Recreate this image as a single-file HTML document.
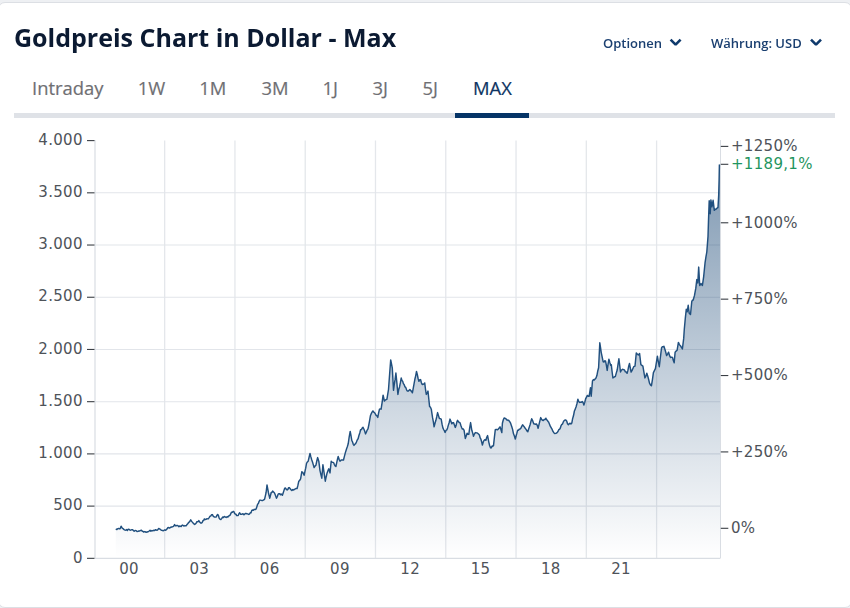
<!DOCTYPE html>
<html><head><meta charset="utf-8"><style>
html,body{margin:0;padding:0;}
body{width:850px;height:608px;overflow:hidden;background:#eef0f3;position:relative;font-family:"Open Sans","Liberation Sans",sans-serif;}
.card{position:absolute;left:-2px;top:2px;width:852px;height:604px;background:#fff;border:1px solid #dcdfe4;border-radius:7px;}
h1{position:absolute;left:14px;top:20px;margin:0;font-size:25px;font-weight:700;color:#0b1a32;line-height:34px;white-space:nowrap;will-change:transform;}
.opt{position:absolute;top:33px;font-size:13px;font-weight:600;color:#1a3f70;line-height:20px;white-space:nowrap;will-change:transform;}
.tab{position:absolute;top:75px;font-size:18.4px;font-weight:400;-webkit-text-stroke:0.2px #6f6f73;color:#6f6f73;line-height:25px;white-space:nowrap;}
.tab.act{color:#0e3462;-webkit-text-stroke:0.2px #0e3462;}
.bar{position:absolute;left:14px;top:113px;width:821px;height:5px;background:#dfe2e7;}
.bar i{position:absolute;left:441px;top:0;width:74px;height:5px;background:#053466;}
svg{position:absolute;left:0;top:0;}
svg text{font-family:"DejaVu Sans",Verdana,sans-serif;font-size:15px;letter-spacing:0.3px;fill:#4e5359;}
</style></head><body>
<div class="card"></div>
<div class="tab" style="left:32px">Intraday</div>
<div class="tab" style="left:137.8px">1W</div>
<div class="tab" style="left:199.2px">1M</div>
<div class="tab" style="left:261.5px">3M</div>
<div class="tab" style="left:322.5px">1J</div>
<div class="tab" style="left:372.5px">3J</div>
<div class="tab" style="left:422.5px">5J</div>
<div class="tab act" style="left:473px">MAX</div>
<div class="bar"><i></i></div>
<svg width="850" height="608" viewBox="0 0 850 608">
<defs><linearGradient id="g" x1="0" y1="164.5" x2="0" y2="558" gradientUnits="userSpaceOnUse">
<stop offset="0" stop-color="#003366" stop-opacity="0.5"/><stop offset="1" stop-color="#003366" stop-opacity="0"/></linearGradient></defs>
<g stroke="#e4e7eb" stroke-width="1.3"><line x1="164.67" x2="164.67" y1="140.6" y2="558"/><line x1="234.94" x2="234.94" y1="140.6" y2="558"/><line x1="305.22" x2="305.22" y1="140.6" y2="558"/><line x1="375.49" x2="375.49" y1="140.6" y2="558"/><line x1="445.77" x2="445.77" y1="140.6" y2="558"/><line x1="516.04" x2="516.04" y1="140.6" y2="558"/><line x1="586.31" x2="586.31" y1="140.6" y2="558"/><line x1="656.59" x2="656.59" y1="140.6" y2="558"/></g>
<g stroke="#e2e5ea" stroke-width="1.1"><line x1="95" x2="720" y1="192.82" y2="192.82"/><line x1="95" x2="720" y1="245.03" y2="245.03"/><line x1="95" x2="720" y1="297.25" y2="297.25"/><line x1="95" x2="720" y1="349.46" y2="349.46"/><line x1="95" x2="720" y1="401.68" y2="401.68"/><line x1="95" x2="720" y1="453.90" y2="453.90"/><line x1="95" x2="720" y1="506.11" y2="506.11"/></g>
<g stroke="#d9dde3" stroke-width="1.2"><line x1="95" x2="95" y1="140" y2="558.5"/><line x1="95" x2="720" y1="558.3" y2="558.3"/></g><line x1="720.5" x2="720.5" y1="140" y2="558.5" stroke="#d9dde3" stroke-width="1"/>
<path d="M115.80,528.80 L116.90,529.60 L118.50,528.50 L120.10,528.80 L121.10,526.20 L122.20,528.10 L123.80,529.40 L125.90,530.20 L127.50,530.40 L129.10,529.40 L131.20,529.90 L133.30,530.40 L136.00,530.60 L138.10,531.30 L140.70,530.40 L142.80,531.30 L145.00,531.70 L147.10,532.00 L149.20,531.00 L151.80,530.60 L154.50,530.60 L156.60,530.20 L158.70,528.50 L160.30,529.40 L162.40,530.40 L164.60,529.90 L166.70,529.40 L167.70,527.80 L170.40,527.50 L172.50,526.70 L174.60,524.60 L176.20,525.70 L178.90,526.70 L180.40,526.20 L182.60,525.10 L184.20,526.00 L186.30,525.70 L187.90,523.50 L189.50,521.90 L190.70,519.80 L192.10,521.90 L193.70,523.50 L195.30,524.10 L196.90,521.70 L198.80,520.60 L201.60,523.10 L204.40,518.90 L206.80,518.70 L208.20,518.90 L210.10,516.10 L212.40,514.60 L214.30,517.00 L216.20,517.00 L217.60,514.40 L219.90,519.10 L221.80,518.40 L224.20,516.50 L226.10,517.50 L227.90,517.00 L230.80,513.70 L233.10,511.40 L234.50,513.20 L237.40,515.60 L239.70,512.80 L241.60,514.20 L244.40,514.60 L246.80,513.70 L248.60,514.40 L251.00,512.80 L252.40,509.90 L255.20,509.50 L256.60,507.60 L257.60,504.30 L259.90,500.10 L262.80,500.50 L264.60,499.10 L266.10,492.50 L267.00,485.00 L268.40,492.50 L269.80,498.20 L271.20,492.50 L272.60,491.10 L274.50,493.00 L276.50,498.20 L278.20,494.10 L281.20,494.10 L282.40,495.30 L284.70,488.20 L287.10,490.00 L289.40,487.60 L291.80,490.60 L295.30,488.80 L297.10,488.50 L298.80,481.20 L300.60,478.80 L301.80,471.80 L304.10,475.30 L306.50,463.50 L308.20,461.20 L310.00,453.50 L311.80,460.00 L314.10,467.60 L315.90,465.30 L317.60,457.60 L318.80,461.20 L320.00,470.60 L321.80,478.20 L322.90,464.70 L324.10,472.90 L325.30,481.20 L327.10,472.90 L328.80,468.80 L330.00,472.90 L331.20,461.20 L332.90,462.40 L335.90,466.50 L338.20,456.50 L340.00,461.20 L342.40,460.00 L343.50,460.00 L345.30,452.90 L346.60,448.70 L348.20,443.80 L350.20,431.40 L351.80,440.50 L354.00,445.40 L356.40,442.10 L358.10,438.80 L360.60,429.80 L363.00,427.30 L365.50,433.90 L368.00,428.90 L370.40,415.80 L372.90,410.90 L374.50,412.50 L377.80,417.40 L379.50,409.20 L381.10,409.20 L383.10,395.20 L384.40,401.00 L386.90,399.30 L388.50,389.50 L389.70,373.00 L390.70,359.90 L392.30,368.10 L393.50,390.30 L395.90,373.00 L397.90,394.40 L401.20,378.00 L404.10,384.50 L407.40,391.10 L409.90,389.50 L412.40,392.80 L416.50,371.40 L418.90,381.30 L420.60,379.60 L422.20,384.50 L424.70,382.90 L426.30,394.40 L428.00,391.10 L429.60,406.70 L431.30,409.20 L431.80,412.60 L434.10,426.80 L435.90,420.30 L437.60,412.60 L439.40,418.50 L441.20,419.10 L442.90,427.90 L445.10,432.40 L447.60,427.90 L450.00,419.10 L451.80,423.80 L453.50,422.60 L455.30,427.40 L457.60,420.30 L460.00,422.60 L462.40,429.10 L464.10,430.30 L465.30,438.50 L467.10,433.20 L468.80,434.40 L470.60,422.60 L471.80,430.30 L473.50,436.20 L475.30,432.60 L477.60,433.20 L479.40,435.00 L482.40,445.00 L484.10,440.30 L485.90,440.30 L487.60,435.60 L488.80,442.10 L490.60,447.90 L493.50,445.60 L495.30,429.70 L497.60,429.70 L500.00,426.80 L501.80,432.60 L502.40,423.20 L504.10,417.90 L506.50,419.70 L508.80,420.30 L510.60,423.20 L511.80,426.80 L513.50,433.80 L515.30,439.10 L517.60,430.30 L520.00,429.10 L522.60,424.80 L525.20,428.30 L527.80,431.70 L529.50,426.50 L531.70,418.80 L533.80,423.90 L536.40,423.90 L538.10,428.30 L540.70,417.60 L543.30,420.50 L545.90,418.20 L549.40,423.90 L552.00,429.10 L554.50,433.40 L557.10,432.60 L559.70,429.10 L563.20,422.20 L565.80,420.00 L568.40,424.80 L571.80,423.10 L574.40,411.00 L576.10,406.70 L577.90,399.20 L579.60,402.40 L582.20,401.50 L583.90,405.00 L585.60,398.90 L587.40,395.40 L589.10,396.30 L590.50,387.70 L591.20,396.30 L592.50,380.80 L595.10,379.00 L596.90,375.60 L598.60,367.80 L599.80,342.80 L601.20,352.30 L603.20,361.80 L605.50,360.90 L607.20,370.40 L608.90,359.20 L610.70,365.20 L611.30,364.70 L612.90,377.90 L615.30,376.60 L617.20,370.00 L618.90,358.80 L620.50,372.00 L622.50,369.30 L624.50,370.00 L627.10,373.30 L629.50,363.40 L631.10,372.00 L633.70,366.70 L635.00,366.10 L636.30,352.90 L638.30,354.90 L639.60,353.60 L640.90,364.70 L642.90,366.10 L644.90,377.90 L646.80,373.30 L649.50,383.20 L651.40,385.80 L653.40,372.60 L655.40,368.70 L657.40,356.20 L659.30,366.70 L661.60,347.60 L663.90,346.30 L666.60,355.50 L668.60,352.20 L670.50,357.50 L672.50,357.50 L674.20,362.80 L675.10,352.20 L677.10,350.30 L678.40,342.40 L680.40,345.70 L682.40,348.90 L683.70,338.40 L684.30,329.20 L685.30,318.40 L686.30,309.20 L687.20,311.80 L688.20,305.30 L689.20,313.20 L690.50,314.50 L691.80,301.30 L693.20,300.00 L694.50,295.40 L695.80,288.20 L696.80,279.60 L697.80,282.90 L698.70,267.10 L699.70,285.50 L701.10,283.60 L702.40,285.50 L703.70,276.30 L705.00,263.20 L706.80,252.00 L708.00,236.50 L708.50,220.60 L709.20,200.80 L710.20,213.70 L710.90,199.90 L711.90,206.80 L713.10,200.30 L714.30,210.30 L715.70,209.40 L718.00,207.50 L718.70,195.00 L719.10,180.00 L719.40,164.40 L720.0,164.40 L720.0,558 L115.80,558 Z" fill="url(#g)" stroke="none"/>
<path d="M115.80,528.80 L116.90,529.60 L117.70,528.63 L118.50,528.50 L119.30,528.72 L120.10,528.80 L121.10,526.20 L122.20,528.10 L123.00,528.54 L123.80,529.40 L124.50,529.83 L125.20,530.13 L125.90,530.20 L126.70,529.60 L127.50,530.40 L128.30,529.12 L129.10,529.40 L130.15,530.19 L131.20,529.90 L131.90,529.68 L132.60,529.81 L133.30,530.40 L134.20,531.26 L135.10,530.49 L136.00,530.60 L137.05,531.49 L138.10,531.30 L138.97,530.96 L139.83,530.92 L140.70,530.40 L141.40,530.14 L142.10,531.22 L142.80,531.30 L143.53,532.02 L144.27,531.60 L145.00,531.70 L146.05,532.24 L147.10,532.00 L148.15,531.77 L149.20,531.00 L150.07,530.17 L150.93,531.15 L151.80,530.60 L152.70,530.75 L153.60,530.28 L154.50,530.60 L155.55,529.65 L156.60,530.20 L157.65,529.93 L158.70,528.50 L159.50,528.91 L160.30,529.40 L161.35,530.25 L162.40,530.40 L163.13,530.84 L163.87,530.41 L164.60,529.90 L165.65,530.32 L166.70,529.40 L167.70,527.80 L168.60,527.53 L169.50,528.08 L170.40,527.50 L171.45,527.01 L172.50,526.70 L173.55,526.35 L174.60,524.60 L175.40,525.76 L176.20,525.70 L177.10,525.39 L178.00,525.78 L178.90,526.70 L179.65,526.00 L180.40,526.20 L181.13,526.58 L181.87,525.36 L182.60,525.10 L183.40,525.75 L184.20,526.00 L184.90,525.58 L185.60,525.81 L186.30,525.70 L187.10,524.42 L187.90,523.50 L188.70,522.46 L189.50,521.90 L190.70,519.80 L191.40,520.99 L192.10,521.90 L192.90,522.83 L193.70,523.50 L194.50,524.45 L195.30,524.10 L196.10,523.19 L196.90,521.70 L197.85,521.84 L198.80,520.60 L199.73,522.00 L200.67,523.05 L201.60,523.10 L202.30,522.32 L203.00,520.46 L203.70,520.53 L204.40,518.90 L205.20,519.58 L206.00,519.41 L206.80,518.70 L208.20,518.90 L209.15,517.61 L210.10,516.10 L210.87,515.94 L211.63,514.64 L212.40,514.60 L213.35,516.33 L214.30,517.00 L215.25,517.12 L216.20,517.00 L216.90,515.36 L217.60,514.40 L218.37,515.27 L219.13,518.10 L219.90,519.10 L220.85,519.53 L221.80,518.40 L222.60,517.11 L223.40,517.61 L224.20,516.50 L225.15,516.86 L226.10,517.50 L227.00,516.69 L227.90,517.00 L228.62,515.85 L229.35,515.78 L230.08,515.12 L230.80,513.70 L231.57,512.20 L232.33,512.35 L233.10,511.40 L233.80,511.57 L234.50,513.20 L235.22,514.15 L235.95,514.13 L236.68,515.61 L237.40,515.60 L238.17,515.44 L238.93,513.74 L239.70,512.80 L240.65,514.30 L241.60,514.20 L242.30,514.00 L243.00,513.72 L243.70,514.66 L244.40,514.60 L245.20,513.55 L246.00,513.52 L246.80,513.70 L247.70,513.90 L248.60,514.40 L249.40,514.04 L250.20,512.78 L251.00,512.80 L251.70,510.62 L252.40,509.90 L253.33,510.36 L254.27,509.34 L255.20,509.50 L255.90,509.28 L256.60,507.60 L257.60,504.30 L258.37,503.53 L259.13,501.30 L259.90,500.10 L260.62,500.14 L261.35,500.33 L262.07,500.63 L262.80,500.50 L263.70,499.95 L264.60,499.10 L265.35,495.89 L266.10,492.50 L267.00,485.00 L268.40,492.50 L269.10,495.54 L269.80,498.20 L271.20,492.50 L271.90,492.50 L272.60,491.10 L273.55,492.06 L274.50,493.00 L275.50,495.49 L276.50,498.20 L277.35,496.50 L278.20,494.10 L278.95,493.68 L279.70,493.78 L280.45,494.86 L281.20,494.10 L282.40,495.30 L283.17,492.97 L283.93,490.64 L284.70,488.20 L285.50,488.02 L286.30,489.26 L287.10,490.00 L287.87,489.33 L288.63,487.63 L289.40,487.60 L290.20,488.79 L291.00,489.81 L291.80,490.60 L292.50,489.54 L293.20,490.08 L293.90,489.47 L294.60,489.45 L295.30,488.80 L296.20,488.41 L297.10,488.50 L297.95,485.18 L298.80,481.20 L299.70,480.38 L300.60,478.80 L301.80,471.80 L302.57,472.20 L303.33,473.43 L304.10,475.30 L304.90,471.65 L305.70,468.17 L306.50,463.50 L307.35,461.95 L308.20,461.20 L309.10,457.28 L310.00,453.50 L310.90,456.90 L311.80,460.00 L312.57,462.25 L313.33,464.85 L314.10,467.60 L315.00,466.15 L315.90,465.30 L316.75,461.24 L317.60,457.60 L318.80,461.20 L320.00,470.60 L320.90,474.55 L321.80,478.20 L322.90,464.70 L324.10,472.90 L325.30,481.20 L326.20,476.73 L327.10,472.90 L327.95,470.65 L328.80,468.80 L330.00,472.90 L331.20,461.20 L332.05,462.24 L332.90,462.40 L333.65,462.67 L334.40,464.56 L335.15,465.85 L335.90,466.50 L336.67,462.86 L337.43,459.39 L338.20,456.50 L339.10,459.34 L340.00,461.20 L340.80,460.38 L341.60,459.90 L342.40,460.00 L343.50,460.00 L344.40,456.35 L345.30,452.90 L346.60,448.70 L347.40,446.57 L348.20,443.80 L349.20,436.96 L350.20,431.40 L351.00,435.67 L351.80,440.50 L352.53,441.87 L353.27,444.30 L354.00,445.40 L354.80,444.20 L355.60,443.77 L356.40,442.10 L357.25,439.92 L358.10,438.80 L358.93,435.54 L359.77,433.04 L360.60,429.80 L361.40,429.58 L362.20,428.06 L363.00,427.30 L363.83,429.06 L364.67,431.09 L365.50,433.90 L366.33,432.28 L367.17,430.07 L368.00,428.90 L368.80,425.02 L369.60,420.71 L370.40,415.80 L371.23,413.66 L372.07,412.18 L372.90,410.90 L373.70,412.19 L374.50,412.50 L375.32,413.95 L376.15,415.44 L376.98,415.93 L377.80,417.40 L378.65,412.71 L379.50,409.20 L380.30,408.87 L381.10,409.20 L382.10,402.67 L383.10,395.20 L384.40,401.00 L385.23,400.07 L386.07,399.62 L386.90,399.30 L387.70,394.27 L388.50,389.50 L389.70,373.00 L390.70,359.90 L391.50,363.87 L392.30,368.10 L393.50,390.30 L394.30,384.39 L395.10,379.44 L395.90,373.00 L396.90,383.15 L397.90,394.40 L398.72,389.51 L399.55,386.91 L400.38,382.71 L401.20,378.00 L401.93,380.40 L402.65,381.14 L403.38,383.60 L404.10,384.50 L404.93,386.83 L405.75,387.36 L406.57,389.84 L407.40,391.10 L408.23,391.11 L409.07,390.29 L409.90,389.50 L410.73,390.63 L411.57,391.36 L412.40,392.80 L413.22,388.27 L414.04,383.80 L414.86,379.27 L415.68,375.82 L416.50,371.40 L417.30,374.36 L418.10,378.50 L418.90,381.30 L419.75,379.72 L420.60,379.60 L421.40,382.70 L422.20,384.50 L423.03,384.28 L423.87,384.11 L424.70,382.90 L425.50,389.28 L426.30,394.40 L427.15,393.39 L428.00,391.10 L428.80,399.02 L429.60,406.70 L430.45,407.17 L431.30,409.20 L431.80,412.60 L432.57,417.73 L433.33,421.54 L434.10,426.80 L435.00,423.23 L435.90,420.30 L436.75,416.71 L437.60,412.60 L438.50,415.59 L439.40,418.50 L440.30,418.66 L441.20,419.10 L442.05,424.20 L442.90,427.90 L443.63,429.58 L444.37,430.65 L445.10,432.40 L445.93,430.50 L446.77,429.98 L447.60,427.90 L448.40,424.93 L449.20,422.49 L450.00,419.10 L450.90,421.21 L451.80,423.80 L452.65,422.72 L453.50,422.60 L454.40,425.06 L455.30,427.40 L456.07,425.54 L456.83,422.14 L457.60,420.30 L458.40,421.53 L459.20,422.51 L460.00,422.60 L460.80,425.26 L461.60,427.45 L462.40,429.10 L463.25,428.91 L464.10,430.30 L465.30,438.50 L466.20,436.06 L467.10,433.20 L467.95,434.38 L468.80,434.40 L469.70,427.78 L470.60,422.60 L471.80,430.30 L472.65,432.88 L473.50,436.20 L474.40,434.03 L475.30,432.60 L476.07,432.84 L476.83,432.88 L477.60,433.20 L478.50,434.06 L479.40,435.00 L480.15,437.94 L480.90,439.20 L481.65,441.79 L482.40,445.00 L483.25,442.05 L484.10,440.30 L485.00,439.70 L485.90,440.30 L486.75,437.26 L487.60,435.60 L488.80,442.10 L489.70,445.76 L490.60,447.90 L491.33,447.89 L492.05,446.09 L492.77,446.18 L493.50,445.60 L494.40,437.36 L495.30,429.70 L496.07,429.40 L496.83,429.46 L497.60,429.70 L498.40,428.97 L499.20,427.91 L500.00,426.80 L500.90,429.48 L501.80,432.60 L502.40,423.20 L503.25,420.06 L504.10,417.90 L504.90,418.23 L505.70,418.50 L506.50,419.70 L507.27,419.99 L508.03,420.45 L508.80,420.30 L509.70,421.56 L510.60,423.20 L511.80,426.80 L512.65,429.63 L513.50,433.80 L514.40,435.94 L515.30,439.10 L516.07,435.96 L516.83,433.40 L517.60,430.30 L518.40,430.35 L519.20,429.31 L520.00,429.10 L520.87,428.15 L521.73,426.43 L522.60,424.80 L523.47,425.86 L524.33,426.93 L525.20,428.30 L526.07,429.43 L526.93,430.89 L527.80,431.70 L528.65,428.97 L529.50,426.50 L530.23,424.24 L530.97,421.30 L531.70,418.80 L532.75,420.94 L533.80,423.90 L534.67,423.96 L535.53,424.21 L536.40,423.90 L537.25,425.41 L538.10,428.30 L538.97,424.61 L539.83,421.05 L540.70,417.60 L541.57,419.17 L542.43,420.23 L543.30,420.50 L544.17,419.53 L545.03,419.60 L545.90,418.20 L546.60,419.81 L547.30,420.10 L548.00,421.56 L548.70,422.16 L549.40,423.90 L550.27,426.13 L551.13,427.63 L552.00,429.10 L552.83,431.15 L553.67,432.43 L554.50,433.40 L555.37,433.40 L556.23,433.24 L557.10,432.60 L557.97,431.54 L558.83,429.63 L559.70,429.10 L560.40,427.86 L561.10,425.55 L561.80,424.39 L562.50,424.02 L563.20,422.20 L564.07,420.74 L564.93,420.08 L565.80,420.00 L566.67,420.96 L567.53,423.81 L568.40,424.80 L569.25,423.86 L570.10,423.19 L570.95,424.07 L571.80,423.10 L572.67,418.46 L573.53,415.58 L574.40,411.00 L575.25,409.13 L576.10,406.70 L577.00,403.49 L577.90,399.20 L578.75,401.52 L579.60,402.40 L580.47,402.23 L581.33,402.28 L582.20,401.50 L583.05,402.51 L583.90,405.00 L584.75,402.38 L585.60,398.90 L586.50,397.17 L587.40,395.40 L588.25,396.19 L589.10,396.30 L590.50,387.70 L591.20,396.30 L592.50,380.80 L593.37,379.57 L594.23,380.00 L595.10,379.00 L596.00,378.00 L596.90,375.60 L597.75,371.00 L598.60,367.80 L599.80,342.80 L600.50,347.27 L601.20,352.30 L602.20,357.15 L603.20,361.80 L603.97,362.02 L604.73,360.79 L605.50,360.90 L606.35,365.14 L607.20,370.40 L608.05,364.40 L608.90,359.20 L609.80,362.39 L610.70,365.20 L611.30,364.70 L612.10,371.71 L612.90,377.90 L613.70,377.30 L614.50,376.82 L615.30,376.60 L616.25,373.13 L617.20,370.00 L618.05,364.16 L618.90,358.80 L619.70,365.27 L620.50,372.00 L621.50,369.98 L622.50,369.30 L623.50,369.65 L624.50,370.00 L625.37,371.86 L626.23,372.06 L627.10,373.30 L627.90,370.40 L628.70,366.16 L629.50,363.40 L630.30,368.01 L631.10,372.00 L631.97,370.64 L632.83,368.74 L633.70,366.70 L635.00,366.10 L636.30,352.90 L637.30,353.93 L638.30,354.90 L639.60,353.60 L640.90,364.70 L641.90,365.37 L642.90,366.10 L643.90,372.23 L644.90,377.90 L645.85,376.24 L646.80,373.30 L647.70,376.04 L648.60,379.25 L649.50,383.20 L650.45,384.90 L651.40,385.80 L652.40,379.87 L653.40,372.60 L654.40,370.68 L655.40,368.70 L656.40,362.36 L657.40,356.20 L658.35,361.80 L659.30,366.70 L660.07,359.83 L660.83,353.59 L661.60,347.60 L662.37,346.69 L663.13,346.87 L663.90,346.30 L664.80,349.07 L665.70,352.01 L666.60,355.50 L667.60,354.16 L668.60,352.20 L669.55,355.58 L670.50,357.50 L671.50,357.17 L672.50,357.50 L673.35,360.48 L674.20,362.80 L675.10,352.20 L676.10,351.11 L677.10,350.30 L678.40,342.40 L679.40,344.62 L680.40,345.70 L681.40,347.44 L682.40,348.90 L683.70,338.40 L684.30,329.20 L685.30,318.40 L686.30,309.20 L687.20,311.80 L688.20,305.30 L689.20,313.20 L690.50,314.50 L691.80,301.30 L692.50,300.28 L693.20,300.00 L694.50,295.40 L695.80,288.20 L696.80,279.60 L697.80,282.90 L698.70,267.10 L699.70,285.50 L701.10,283.60 L702.40,285.50 L703.70,276.30 L705.00,263.20 L705.90,257.15 L706.80,252.00 L708.00,236.50 L708.50,220.60 L709.20,200.80 L710.20,213.70 L710.90,199.90 L711.90,206.80 L713.10,200.30 L714.30,210.30 L715.00,209.09 L715.70,209.40 L716.47,208.73 L717.23,207.95 L718.00,207.50 L718.70,195.00 L719.10,180.00 L719.40,164.40" fill="none" stroke="#21507f" stroke-width="1.45" stroke-linejoin="round"/>
<g stroke="#3a3f45" stroke-width="1.1"><line x1="87" x2="94.5" y1="140.60" y2="140.60"/><line x1="87" x2="94.5" y1="192.82" y2="192.82"/><line x1="87" x2="94.5" y1="245.03" y2="245.03"/><line x1="87" x2="94.5" y1="297.25" y2="297.25"/><line x1="87" x2="94.5" y1="349.46" y2="349.46"/><line x1="87" x2="94.5" y1="401.68" y2="401.68"/><line x1="87" x2="94.5" y1="453.90" y2="453.90"/><line x1="87" x2="94.5" y1="506.11" y2="506.11"/><line x1="87" x2="94.5" y1="558.33" y2="558.33"/><line x1="720.8" x2="728.3" y1="146.40" y2="146.40"/><line x1="720.8" x2="728.3" y1="222.78" y2="222.78"/><line x1="720.8" x2="728.3" y1="299.16" y2="299.16"/><line x1="720.8" x2="728.3" y1="375.54" y2="375.54"/><line x1="720.8" x2="728.3" y1="451.92" y2="451.92"/><line x1="720.8" x2="728.3" y1="528.30" y2="528.30"/><line x1="720.8" x2="728.3" y1="164.3" y2="164.3"/></g>
<g text-anchor="end"><text x="82.8" y="144.80">4.000</text><text x="82.8" y="197.02">3.500</text><text x="82.8" y="249.23">3.000</text><text x="82.8" y="301.45">2.500</text><text x="82.8" y="353.66">2.000</text><text x="82.8" y="405.88">1.500</text><text x="82.8" y="458.10">1.000</text><text x="82.8" y="510.31">500</text><text x="82.8" y="562.53">0</text></g>
<g style="letter-spacing:0.6px"><text x="731" y="151.20">+1250%</text><text x="731" y="227.58">+1000%</text><text x="731" y="303.96">+750%</text><text x="731" y="380.34">+500%</text><text x="731" y="456.72">+250%</text><text x="731" y="533.10">0%</text><text x="731" y="169" style="fill:#1f9560">+1189,1%</text></g>
<g text-anchor="middle"><text x="129.10" y="574.3">00</text><text x="199.37" y="574.3">03</text><text x="269.65" y="574.3">06</text><text x="339.92" y="574.3">09</text><text x="410.20" y="574.3">12</text><text x="480.47" y="574.3">15</text><text x="550.74" y="574.3">18</text><text x="621.02" y="574.3">21</text></g>
</svg>
<svg width="850" height="608"><path d="M670.6,39.6 L675.6,44.6 L680.6,39.6" fill="none" stroke="#0f3a6c" stroke-width="2.6" stroke-linejoin="bevel"/><path d="M811,39.6 L816,44.6 L821,39.6" fill="none" stroke="#0f3a6c" stroke-width="2.6" stroke-linejoin="bevel"/></svg>
<h1>Goldpreis Chart in Dollar - Max</h1>
<div class="opt" style="left:603px">Optionen</div>
<div class="opt" style="left:711px">Währung: USD</div>
</body></html>
